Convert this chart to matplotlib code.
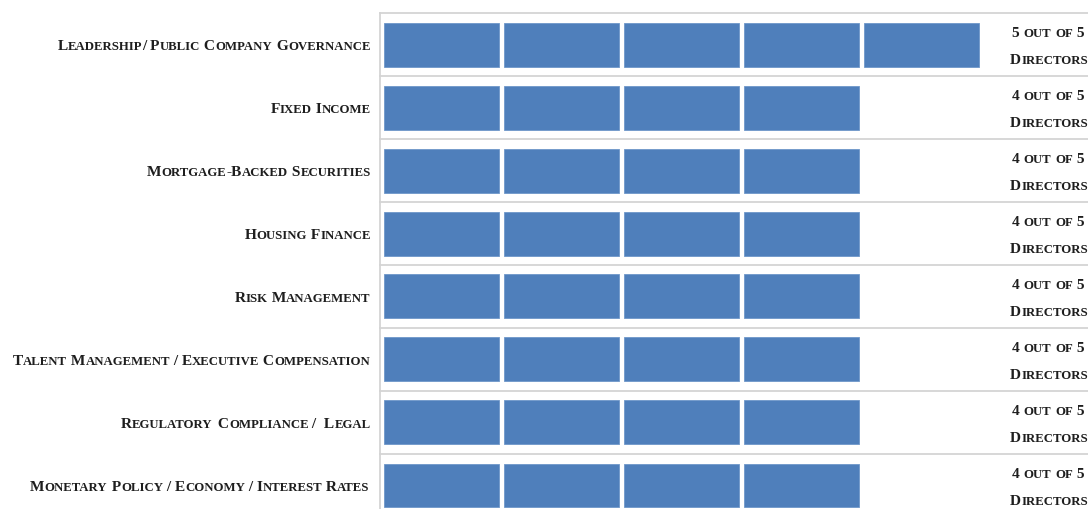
import matplotlib
matplotlib.use("Agg")
import matplotlib.pyplot as plt
from matplotlib import transforms
from matplotlib.font_manager import findfont, FontProperties, get_font

# ---- data ----
categories = [
    "Leadership/ Public Company Governance",
    "Fixed Income",
    "Mortgage-Backed Securities",
    "Housing Finance",
    "Risk Management",
    "Talent Management / Executive Compensation",
    "Regulatory Compliance /  Legal",
    "Monetary Policy / Economy / Interest Rates",
]
directors_count = [5, 4, 4, 4, 4, 4, 4, 4]
total_directors = 5
count_labels = [f"{c} out of {total_directors}" for c in directors_count]
suffix_label = "Directors"

BAR_COLOR = "#4F7FBB"
GRID_COLOR = "#D4D4D4"
TEXT_COLOR = "#1E1E1E"
FONT = "Liberation Serif"
BIG = 11.1
SMALL = 9.2
DPI = 100

W, H = 1088, 510
fig = plt.figure(figsize=(W / DPI, H / DPI), dpi=DPI)
row_px = 63
top_px = 14
left_px = 380
nrows = len(categories)
ax_h = row_px * nrows
ax = fig.add_axes([left_px / W, (H - top_px - ax_h) / H, (W - left_px) / W, ax_h / H])
unit = 120.0
x0 = -4 / unit
ax.set_xlim(x0, x0 + (W - left_px) / unit)
ax.set_ylim(nrows, 0)
ax.axis("off")

# blocks
for i, n in enumerate(directors_count):
    for k in range(n):
        ax.barh(i + 0.5, 0.958, left=k, height=44 / 63, color=BAR_COLOR,
                edgecolor="#6f97c9", linewidth=0.6)

# grid lines
for j in range(nrows + 1):
    ax.axhline(j, color=GRID_COLOR, lw=1.3, zorder=0, clip_on=False)
ax.axvline(x0, ymin=0, ymax=1, color=GRID_COLOR, lw=1.3, zorder=0, clip_on=False)

font = get_font(findfont(FontProperties(family=FONT, weight="bold")))


def advance(s, size):
    font.set_size(size, DPI)
    total = 0.0
    for ch in s:
        g = font.load_char(ord(ch))
        total += g.linearHoriAdvance / 65536
    return total


def runs_of(text):
    out = []
    for ch in text:
        small = ch.islower()
        c = ch.upper()
        if out and out[-1][1] == small:
            out[-1][0] += c
        else:
            out.append([c, small])
    return out


def smallcaps(x, y, text, ha="right"):
    pieces = []
    total = 0.0
    for s, small in runs_of(text):
        size = SMALL if small else BIG
        pieces.append((s, size, total))
        total += advance(s, size)
    if ha == "right":
        start = -total
    elif ha == "center":
        start = -total / 2
    else:
        start = 0
    for s, size, off in pieces:
        if not s.strip():
            continue
        tr = transforms.offset_copy(ax.transData, fig=fig, x=start + off, y=0, units="dots")
        ax.text(x, y, s, transform=tr, fontsize=size, family=FONT, weight="bold",
                color=TEXT_COLOR, ha="left", va="baseline", clip_on=False)


label_x = x0 + (370.5 - left_px) / unit
right_x = x0 + (1048 - left_px) / unit
for i, cat in enumerate(categories):
    smallcaps(label_x, i + 0.5 + 5 / row_px, cat, ha="right")
    smallcaps(right_x, i + 0.5 - 8.5 / row_px, count_labels[i], ha="center")
    smallcaps(x0 + (1010 - left_px) / unit, i + 0.5 + 18.5 / row_px, suffix_label, ha="left")

fig.savefig("out.png", dpi=DPI)
